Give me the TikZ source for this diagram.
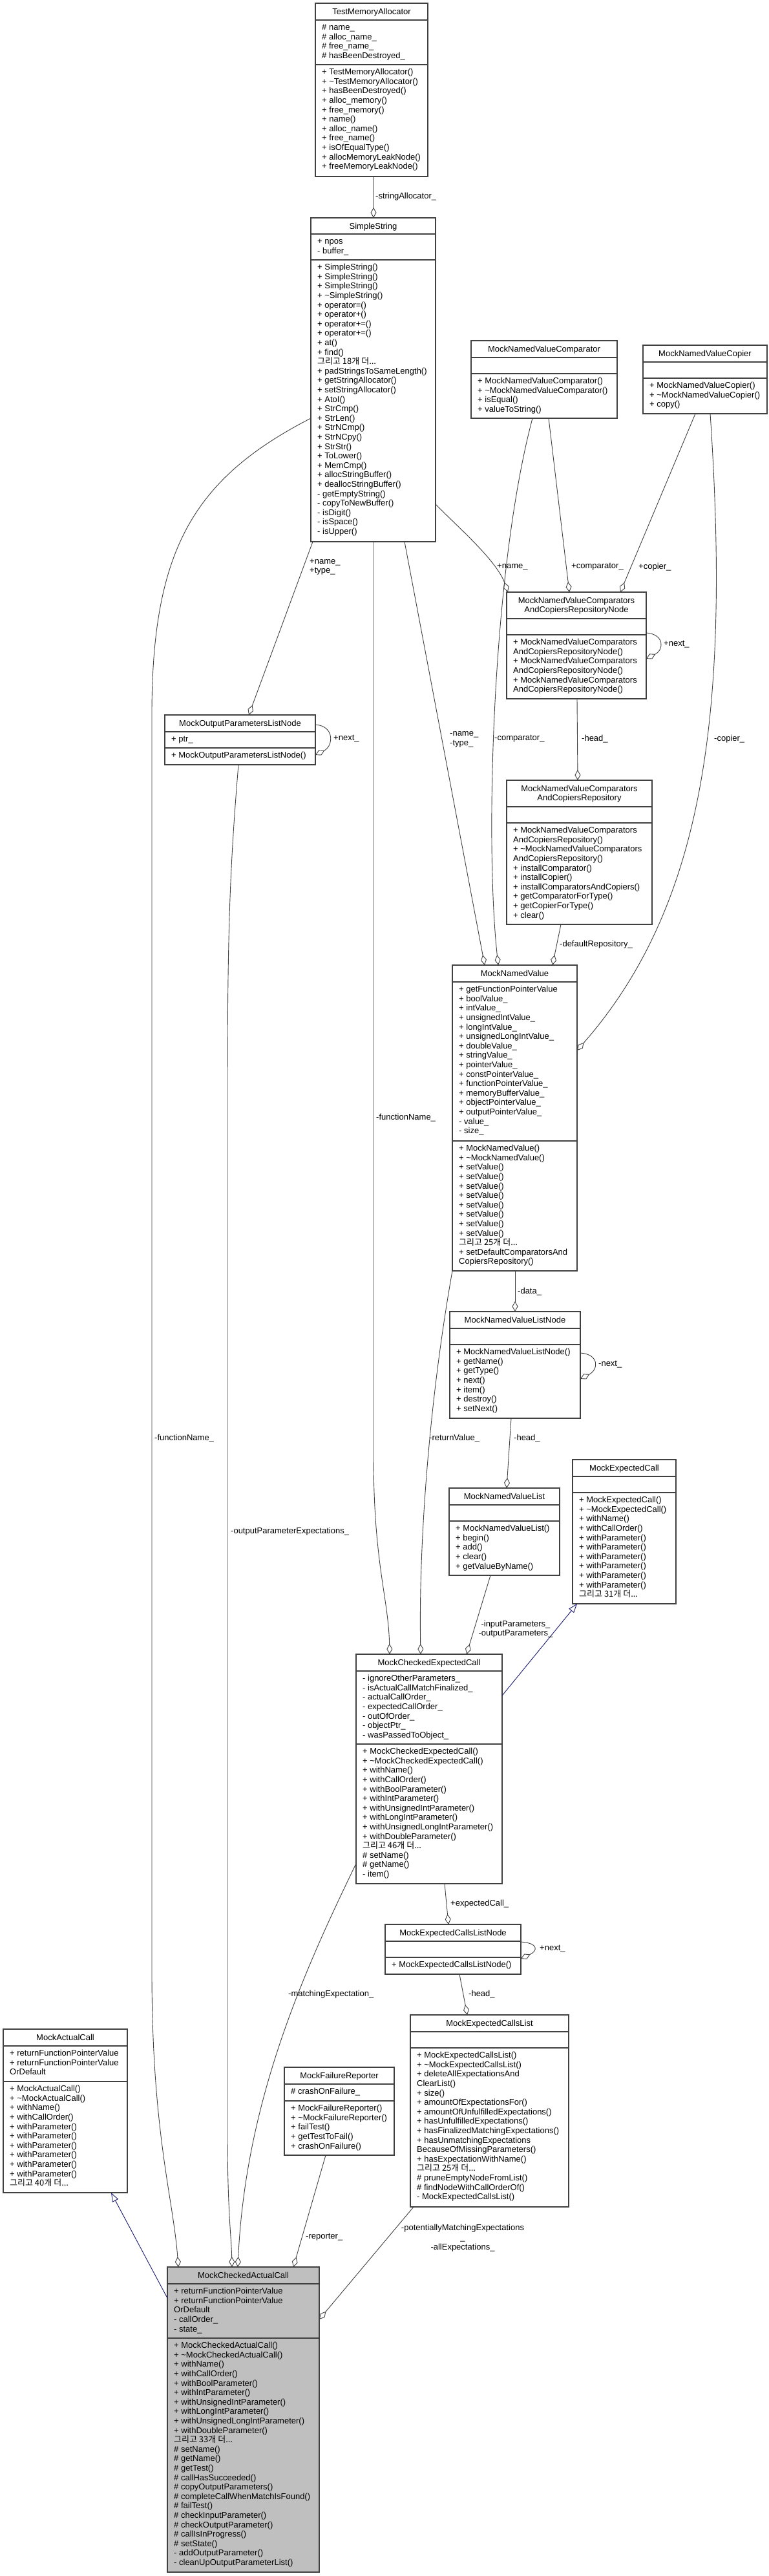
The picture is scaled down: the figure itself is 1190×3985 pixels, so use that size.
\documentclass[tikz,border=0pt]{standalone}
\usepackage{fontspec}
\setmainfont{Liberation Sans}
\newfontfamily\kr{Noto Sans CJK KR}
\usetikzlibrary{arrows.meta}
\definecolor{edgec}{HTML}{404040}
\definecolor{boxc}{HTML}{404040}
\definecolor{inhc}{HTML}{191970}
\definecolor{cacfill}{HTML}{BFBFBF}
\newcommand\bfnt{\fontsize{13}{14.6}\selectfont\lineskiplimit=-50pt\relax}
\newcommand\fst{\rule{0pt}{10pt}}
\newcommand\ti{\textasciitilde}
\newcommand\more[1]{{\kr 그리고 #1개 더...}}
\tikzset{
  boxfr/.style={draw=boxc, line width=1.2pt, anchor=north west, inner sep=0pt, outer sep=0pt},
  sepl/.style={draw=boxc, line width=1.2pt},
  hdr/.style={anchor=north, align=center, inner sep=0pt, font=\bfnt},
  sect/.style={anchor=north west, align=left, inner sep=0pt, font=\bfnt},
  agg/.style={draw=edgec, line width=0.9pt, -{Diamond[open, length=16pt, width=9pt]}},
  inh/.style={draw=inhc, line width=0.9pt, -{Triangle[open, length=14pt, width=10pt]}},
  lbl/.style={anchor=west, align=left, inner sep=0pt, font=\bfnt},
  clbl/.style={anchor=center, align=center, inner sep=0pt, font=\bfnt},
}
% #1 name, #2 x1, #3 x2, #4 top, #5 header bottom, #6 attr bottom, #7 bottom, #8 fill, #9 header
\newcommand\umlbox[9]{%
  \node[boxfr, fill=#8, minimum width={#3-#2}, minimum height={#7-#4}] (#1) at (#2,#4) {};
  \draw[sepl] (#2,#5) -- (#3,#5) (#2,#6) -- (#3,#6);
  \node[hdr] (#1-hd) at ({(#2+#3)/2},{#4+7}) {\fst #9};
}
\newcommand\usec[4]{\node[sect] (#1) at ({#2+10},{#3+5.5}) {\fst #4};}
\begin{document}
\begin{tikzpicture}[x=1pt,y=-1pt]
\fill[white] (0,0) rectangle (1190,3985);
\useasboundingbox (0,0) rectangle (1190,3985);

% ---------- boxes ----------
\umlbox{TMA}{488}{662}{5}{31}{100}{273}{white}{TestMemoryAllocator}
\usec{TMA-a}{488}{31}{\# name\_\\\# alloc\_name\_\\\# free\_name\_\\\# hasBeenDestroyed\_}
\usec{TMA-m}{488}{100}{+ TestMemoryAllocator()\\+ \ti TestMemoryAllocator()\\+ hasBeenDestroyed()\\+ alloc\_memory()\\+ free\_memory()\\+ name()\\+ alloc\_name()\\+ free\_name()\\+ isOfEqualType()\\+ allocMemoryLeakNode()\\+ freeMemoryLeakNode()}

\umlbox{SS}{481}{674}{337}{362}{402}{838}{white}{SimpleString}
\usec{SS-a}{481}{362}{+ npos\\- buffer\_}
\usec{SS-m}{481}{402}{+ SimpleString()\\+ SimpleString()\\+ SimpleString()\\+ \ti SimpleString()\\+ operator=()\\+ operator+()\\+ operator+=()\\+ operator+=()\\+ at()\\+ find()\\\more{18}\\+ padStringsToSameLength()\\+ getStringAllocator()\\+ setStringAllocator()\\+ AtoI()\\+ StrCmp()\\+ StrLen()\\+ StrNCmp()\\+ StrNCpy()\\+ StrStr()\\+ ToLower()\\+ MemCmp()\\+ allocStringBuffer()\\+ deallocStringBuffer()\\- getEmptyString()\\- copyToNewBuffer()\\- isDigit()\\- isSpace()\\- isUpper()}

\umlbox{CMP}{729}{955}{527}{553}{578}{647}{white}{MockNamedValueComparator}
\usec{CMP-m}{729}{578}{+ MockNamedValueComparator()\\+ \ti MockNamedValueComparator()\\+ isEqual()\\+ valueToString()}

\umlbox{CPY}{995}{1187}{534}{560}{585}{640}{white}{MockNamedValueCopier}
\usec{CPY-m}{995}{585}{+ MockNamedValueCopier()\\+ \ti MockNamedValueCopier()\\+ copy()}

\umlbox{RN}{784}{1000}{916}{957}{982}{1081}{white}{MockNamedValueComparators\\AndCopiersRepositoryNode}
\usec{RN-m}{784}{982}{+ MockNamedValueComparators\\AndCopiersRepositoryNode()\\+ MockNamedValueComparators\\AndCopiersRepositoryNode()\\+ MockNamedValueComparators\\AndCopiersRepositoryNode()}

\umlbox{RP}{784}{1009}{1207}{1248}{1273}{1430}{white}{MockNamedValueComparators\\AndCopiersRepository}
\usec{RP-m}{784}{1273}{+ MockNamedValueComparators\\AndCopiersRepository()\\+ \ti MockNamedValueComparators\\AndCopiersRepository()\\+ installComparator()\\+ installCopier()\\+ installComparatorsAndCopiers()\\+ getComparatorForType()\\+ getCopierForType()\\+ clear()}

\umlbox{OPN}{255}{488}{1106}{1132}{1157}{1183}{white}{MockOutputParametersListNode}
\usec{OPN-a}{255}{1132}{+ ptr\_}
\usec{OPN-m}{255}{1157}{+ MockOutputParametersListNode()}

\umlbox{MNV}{700}{893}{1493}{1519}{1765}{1966}{white}{MockNamedValue}
\usec{MNV-a}{700}{1519}{+ getFunctionPointerValue\\+ boolValue\_\\+ intValue\_\\+ unsignedIntValue\_\\+ longIntValue\_\\+ unsignedLongIntValue\_\\+ doubleValue\_\\+ stringValue\_\\+ pointerValue\_\\+ constPointerValue\_\\+ functionPointerValue\_\\+ memoryBufferValue\_\\+ objectPointerValue\_\\+ outputPointerValue\_\\- value\_\\- size\_}
\usec{MNV-m}{700}{1765}{+ MockNamedValue()\\+ \ti MockNamedValue()\\+ setValue()\\+ setValue()\\+ setValue()\\+ setValue()\\+ setValue()\\+ setValue()\\+ setValue()\\+ setValue()\\\more{25}\\+ setDefaultComparatorsAnd\\CopiersRepository()}

\umlbox{LN}{696}{898}{2029}{2055}{2080}{2194}{white}{MockNamedValueListNode}
\usec{LN-m}{696}{2080}{+ MockNamedValueListNode()\\+ getName()\\+ getType()\\+ next()\\+ item()\\+ destroy()\\+ setNext()}

\umlbox{NVL}{695}{866}{2302}{2328}{2353}{2437}{white}{MockNamedValueList}
\usec{NVL-m}{695}{2353}{+ MockNamedValueList()\\+ begin()\\+ add()\\+ clear()\\+ getValueByName()}

\umlbox{MEC}{886}{1046}{2258}{2284}{2309}{2481}{white}{MockExpectedCall}
\usec{MEC-m}{886}{2309}{+ MockExpectedCall()\\+ \ti MockExpectedCall()\\+ withName()\\+ withCallOrder()\\+ withParameter()\\+ withParameter()\\+ withParameter()\\+ withParameter()\\+ withParameter()\\+ withParameter()\\\more{31}}

\umlbox{CEC}{551}{777}{2559}{2585}{2698}{2914}{white}{MockCheckedExpectedCall}
\usec{CEC-a}{551}{2585}{- ignoreOtherParameters\_\\- isActualCallMatchFinalized\_\\- actualCallOrder\_\\- expectedCallOrder\_\\- outOfOrder\_\\- objectPtr\_\\- wasPassedToObject\_}
\usec{CEC-m}{551}{2698}{+ MockCheckedExpectedCall()\\+ \ti MockCheckedExpectedCall()\\+ withName()\\+ withCallOrder()\\+ withBoolParameter()\\+ withIntParameter()\\+ withUnsignedIntParameter()\\+ withLongIntParameter()\\+ withUnsignedLongIntParameter()\\+ withDoubleParameter()\\\more{46}\\\# setName()\\\# getName()\\- item()}

\umlbox{ECN}{596}{806}{2977}{3003}{3028}{3054}{white}{MockExpectedCallsListNode}
\usec{ECN-m}{596}{3028}{+ MockExpectedCallsListNode()}

\umlbox{ECL}{635}{880}{3117}{3143}{3168}{3414}{white}{MockExpectedCallsList}
\usec{ECL-m}{635}{3168}{+ MockExpectedCallsList()\\+ \ti MockExpectedCallsList()\\+ deleteAllExpectationsAnd\\ClearList()\\+ size()\\+ amountOfExpectationsFor()\\+ amountOfUnfulfilledExpectations()\\+ hasUnfulfilledExpectations()\\+ hasFinalizedMatchingExpectations()\\+ hasUnmatchingExpectations\\BecauseOfMissingParameters()\\+ hasExpectationWithName()\\\more{25}\\\# pruneEmptyNodeFromList()\\\# findNodeWithCallOrderOf()\\- MockExpectedCallsList()}

\umlbox{MAC}{5}{197}{3139}{3165}{3220}{3392}{white}{MockActualCall}
\usec{MAC-a}{5}{3165}{+ returnFunctionPointerValue\\+ returnFunctionPointerValue\\OrDefault}
\usec{MAC-m}{5}{3220}{+ MockActualCall()\\+ \ti MockActualCall()\\+ withName()\\+ withCallOrder()\\+ withParameter()\\+ withParameter()\\+ withParameter()\\+ withParameter()\\+ withParameter()\\+ withParameter()\\\more{40}}

\umlbox{MFR}{440}{610}{3198}{3224}{3250}{3334}{white}{MockFailureReporter}
\usec{MFR-a}{440}{3224}{\# crashOnFailure\_}
\usec{MFR-m}{440}{3250}{+ MockFailureReporter()\\+ \ti MockFailureReporter()\\+ failTest()\\+ getTestToFail()\\+ crashOnFailure()}

\umlbox{CAC}{259}{494}{3507}{3533}{3617}{3979}{cacfill}{MockCheckedActualCall}
\usec{CAC-a}{259}{3533}{+ returnFunctionPointerValue\\+ returnFunctionPointerValue\\OrDefault\\- callOrder\_\\- state\_}
\usec{CAC-m}{259}{3617}{+ MockCheckedActualCall()\\+ \ti MockCheckedActualCall()\\+ withName()\\+ withCallOrder()\\+ withBoolParameter()\\+ withIntParameter()\\+ withUnsignedIntParameter()\\+ withLongIntParameter()\\+ withUnsignedLongIntParameter()\\+ withDoubleParameter()\\\more{33}\\\# setName()\\\# getName()\\\# getTest()\\\# callHasSucceeded()\\\# copyOutputParameters()\\\# completeCallWhenMatchIsFound()\\\# failTest()\\\# checkInputParameter()\\\# checkOutputParameter()\\\# callIsInProgress()\\\# setState()\\- addOutputParameter()\\- cleanUpOutputParameterList()}

% ---------- connectors ----------
\draw[agg] ([xshift=90pt]TMA.south west) -- ([xshift=97pt]SS.north west);
\draw[agg] ([yshift=-443pt]SS.north east) .. controls (705,812) and (768,866) .. ([xshift=2pt]RN.north west);
\draw[agg] ([xshift=120pt]CMP.south west) -- ([xshift=97pt]RN.north west);
\draw[agg] ([xshift=81pt]CPY.south west) -- ([xshift=176pt]RN.north west);
\draw[agg] ([yshift=-63pt]RN.north east) .. controls +(28,2) and +(28,-14) .. ([yshift=-103pt]RN.north east);
\draw[agg] ([xshift=109pt]RN.south west) -- ([xshift=110pt]RP.north west);
\draw[agg] ([xshift=145pt]SS.south west) -- ([xshift=50pt]MNV.north west);
\draw[agg] ([xshift=95pt]CMP.south west) .. controls (762,880) and (750,1300) .. ([xshift=71pt]MNV.north west);
\draw[agg] ([xshift=104pt]CPY.south west) .. controls (1130,1100) and (1090,1400) .. ([yshift=-132pt]MNV.north east);
\draw[agg] ([xshift=84pt]RP.south west) -- ([xshift=155pt]MNV.north west);
\draw[agg] ([xshift=3pt]SS.south west) -- ([xshift=130pt]OPN.north west);
\draw[agg] ([yshift=-15pt]OPN.north east) .. controls +(30,2) and +(28,-14) .. ([yshift=-62pt]OPN.north east);
\draw[agg] ([xshift=97pt]SS.south west) -- (578,2250) .. controls (578,2420) and (601,2470) .. ([xshift=52pt]CEC.north west);
\draw[agg] (MNV.south west) .. controls (662,2180) and (648,2400) .. ([xshift=100pt]CEC.north west);
\draw[agg] ([xshift=97pt]MNV.south west) -- ([xshift=101pt]LN.north west);
\draw[agg] ([yshift=-64pt]LN.north east) .. controls +(30,2) and +(28,-14) .. ([yshift=-104pt]LN.north east);
\draw[agg] ([xshift=95pt]LN.south west) -- ([xshift=89pt]NVL.north west);
\draw[agg] ([xshift=64pt]NVL.south west) -- ([xshift=171pt]CEC.north west);
\draw[inh] ([yshift=-64pt]CEC.north east) -- ([xshift=7pt]MEC.south west);
\draw[agg] ([xshift=137pt]CEC.south west) -- ([xshift=98pt]ECN.north west);
\draw[agg] ([yshift=-27pt]ECN.north east) .. controls +(28,2) and +(26,-12) .. ([yshift=-53pt]ECN.north east);
\draw[agg] ([xshift=115pt]ECN.south west) -- ([xshift=88pt]ECL.north west);
\draw[agg] ([yshift=-310pt]SS.north west) .. controls (300,740) and (236,850) .. (235,1100) -- (235,3050) .. controls (235,3300) and (268,3400) .. ([xshift=17pt]CAC.north west);
\draw[agg] ([xshift=114pt]OPN.south west) .. controls (355,1350) and (352,1450) .. (352,1700) -- (352,3300) .. controls (352,3420) and (358,3460) .. ([xshift=100pt]CAC.north west);
\draw[agg] ([yshift=-324pt]CEC.north west) .. controls (470,3050) and (380,3250) .. ([xshift=109pt]CAC.north west);
\draw[agg] ([xshift=64pt]MFR.south west) -- ([xshift=195pt]CAC.north west);
\draw[agg] ([xshift=5pt]ECL.south west) -- ([yshift=-81pt]CAC.north east);
\draw[inh] ([yshift=-48pt]CAC.north west) -- ([xshift=167pt]MAC.south west);

% ---------- connector labels ----------
\node[lbl] (l1) at (581,304) {-stringAllocator\_};
\node[lbl] (l2) at (769,877) {+name\_};
\node[lbl] (l3) at (884,877) {+comparator\_};
\node[lbl] (l4) at (988,877) {+copier\_};
\node[lbl] (l5) at (1027,997) {+next\_};
\node[lbl] (l6) at (900,1143) {-head\_};
\node[lbl] (l7) at (696,1144) {-name\_\\-type\_};
\node[lbl] (l8) at (765,1143) {-comparator\_};
\node[lbl] (l9) at (1105,1143) {-copier\_};
\node[lbl] (l10) at (866,1461) {-defaultRepository\_};
\node[lbl] (l11) at (479,877) {+name\_\\+type\_};
\node[lbl] (l12) at (516,1143) {+next\_};
\node[lbl] (l13) at (582,1729) {-functionName\_};
\node[lbl] (l14) at (664,2225) {-returnValue\_};
\node[lbl] (l27) at (801,1998) {-data\_};
\node[lbl] (l26) at (926,2111) {-next\_};
\node[lbl] (l28) at (795,2225) {-head\_};
\node[clbl] (l15) at (798,2520) {-inputParameters\_\\-outputParameters\_};
\node[lbl] (l17) at (697,2945) {+expectedCall\_};
\node[lbl] (l18) at (835,3015) {+next\_};
\node[lbl] (l19) at (725,3085) {-head\_};
\node[lbl] (l20) at (239,2225) {-functionName\_};
\node[lbl] (l21) at (357,2369) {-outputParameterExpectations\_};
\node[lbl] (l22) at (446,3085) {-matchingExpectation\_};
\node[lbl] (l23) at (473,3461) {-reporter\_};
\node[clbl] (l24) at (716,3462) {-potentiallyMatchingExpectations\\\_\\-allExpectations\_};
\end{tikzpicture}
\end{document}
